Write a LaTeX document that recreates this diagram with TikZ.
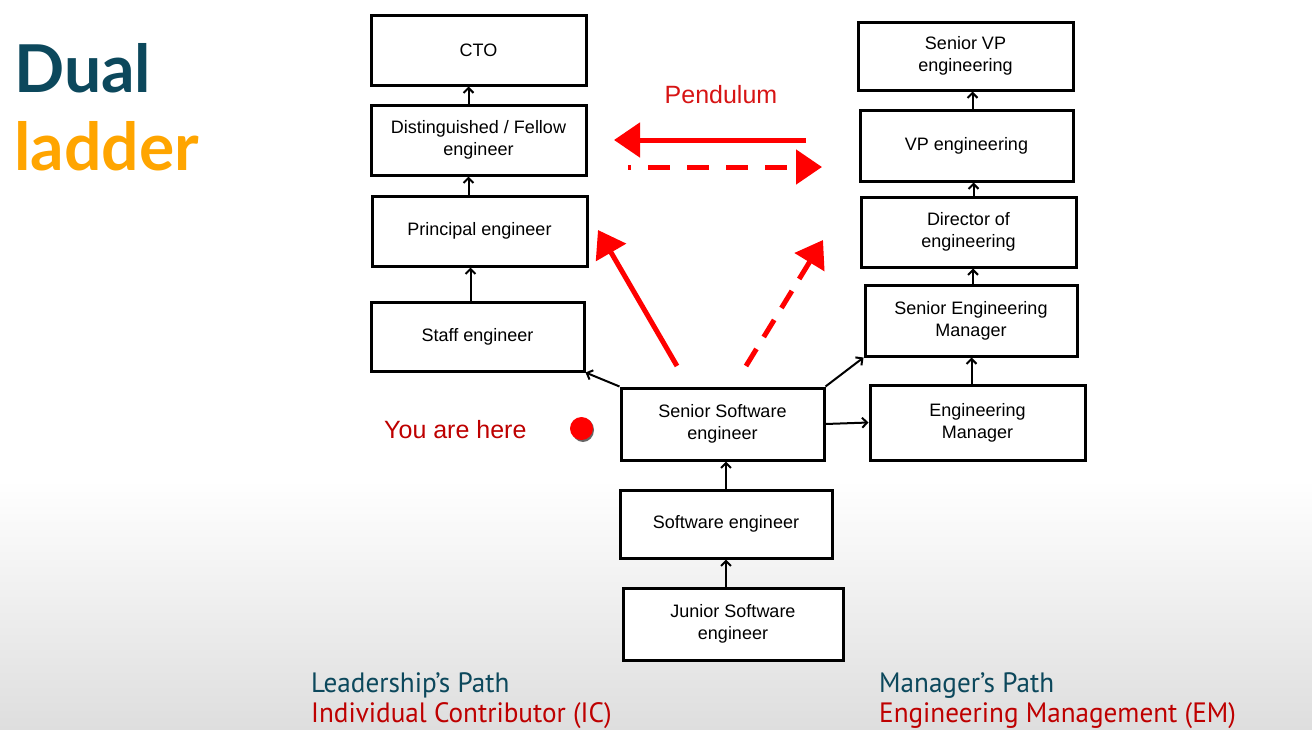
\documentclass[tikz,border=0pt]{standalone}
\usepackage{fontspec}
\setmainfont{Liberation Sans}
\newfontfamily\titlefont{Lato}
\newfontfamily\pathfont[FakeStretch=0.97]{PT Sans}
\usetikzlibrary{arrows.meta}
\definecolor{teal}{RGB}{12,72,92}
\definecolor{ladderorange}{RGB}{255,165,0}
\definecolor{darkred}{RGB}{190,0,0}
\definecolor{penred}{RGB}{215,20,20}
\definecolor{bggray}{RGB}{222,222,222}
\tikzset{
  box/.style={draw=black, line width=3pt, fill=white, inner sep=2pt,
    align=center, font=\fontsize{18}{22}\selectfont},
  uparr/.style={line width=2pt, -{Straight Barb[length=5pt,width=10pt]}},
  redarr/.style={draw=red, line width=5pt, -{Triangle[length=26pt,width=34pt]}},
  reddash/.style={redarr, dash pattern=on 22pt off 17pt},
}
\begin{document}
\begin{tikzpicture}[x=1pt,y=-1pt]
\useasboundingbox (0,0) rectangle (1312,729);
\fill[white] (0,0) rectangle (1312,481);
\shade[top color=white,bottom color=bggray] (0,480) rectangle (1312,729);

% title
\node[anchor=base west, inner sep=0pt, text=teal, font=\titlefont\bfseries\fontsize{66}{70}\selectfont] (dual) at (14,92) {Dual};
\node[anchor=base west, inner sep=0pt, text=ladderorange, font=\titlefont\bfseries\fontsize{66}{70}\selectfont] (ladder) at (14,170) {ladder};

% left column (IC)
\node[box, minimum width=215pt, minimum height=70pt] (cto) at (478.5,50) {CTO};
\node[box, minimum width=215pt, minimum height=70pt] (dist) at (478.5,140) {Distinguished / Fellow\\engineer};
\node[box, minimum width=215pt, minimum height=70pt] (prin) at (479.5,231) {Principal engineer};
\node[box, minimum width=213pt, minimum height=69pt] (staff) at (477.5,336.5) {Staff engineer};

% right column (EM)
\node[box, minimum width=215pt, minimum height=68pt] (svp) at (965.5,56) {Senior VP\\engineering};
\node[box, minimum width=213pt, minimum height=71pt] (vp) at (966.5,145.5) {VP engineering};
\node[box, minimum width=215pt, minimum height=70pt] (dir) at (968.5,232) {Director of\\engineering};
\node[box, minimum width=212pt, minimum height=71pt] (sem) at (971,320.5) {Senior Engineering\\Manager};
\node[box, minimum width=215pt, minimum height=75pt] (em) at (977.5,422.5) {Engineering\\Manager};

% centre column
\node[box, minimum width=203pt, minimum height=72pt] (sse) at (722.5,424) {Senior Software\\engineer};
\node[box, minimum width=212pt, minimum height=68pt] (swe) at (726,524) {Software engineer};
\node[box, minimum width=220pt, minimum height=72pt] (jse) at (733,624) {Junior Software\\engineer};

% black connectors
\draw[uparr] ([xshift=-10pt]dist.north) -- ([xshift=-10pt]dist.north |- cto.south);
\draw[uparr] ([xshift=-11pt]prin.north) -- ([xshift=-11pt]prin.north |- dist.south);
\draw[uparr] ([xshift=-7pt]staff.north) -- ([xshift=-7pt]staff.north |- prin.south);
\draw[uparr] ([xshift=6pt]vp.north) -- ([xshift=6pt]vp.north |- svp.south);
\draw[uparr] ([xshift=5pt]dir.north) -- ([xshift=5pt]dir.north |- vp.south);
\draw[uparr] ([xshift=2pt]sem.north) -- ([xshift=2pt]sem.north |- dir.south);
\draw[uparr] ([xshift=-6pt]em.north) -- ([xshift=-6pt]em.north |- sem.south);
\draw[uparr] (swe.north) -- (swe.north |- sse.south);
\draw[uparr] ([xshift=-7pt]jse.north) -- ([xshift=-7pt]jse.north |- swe.south);
\draw[uparr] (sse.north west) -- (staff.south east);
\draw[uparr] (sse.north east) -- (sem.south west);
\draw[uparr] (sse.east) -- (em.west);

% pendulum
\node[anchor=base, inner sep=0pt, text=penred, font=\fontsize{25}{28}\selectfont] (pend) at (721,103) {Pendulum};
\coordinate (pl1) at (806,140);
\coordinate (pl2) at (614,140);
\coordinate (pr1) at (628,167);
\coordinate (pr2) at (822,167);
\draw[redarr] (pl1) -- (pl2);
\draw[reddash, dash phase=19pt] (pr1) -- (pr2);
\coordinate (dl1) at (677,366);
\coordinate (dl2) at (598,230);
\coordinate (dr1) at (746,366);
\coordinate (dr2) at (823,240);
\draw[redarr] (dl1) -- (dl2);
\draw[reddash, dash pattern=on 20pt off 14pt] (dr1) -- (dr2);

% you are here
\node[anchor=base west, inner sep=0pt, text=darkred, font=\fontsize{25}{28}\selectfont] (here) at (384,438) {You are here};
\fill[black!60] (583,430) ellipse [x radius=11pt, y radius=12pt];
\node[circle, fill=red, inner sep=0pt, minimum width=21pt, minimum height=23pt] (dot) at (581.5,428.5) {};

% bottom labels
\node[anchor=base west, inner sep=0pt, text=teal, font=\pathfont\fontsize{28}{30}\selectfont] (lp) at (311,692) {Leadership’s Path};
\node[anchor=base west, inner sep=0pt, text=darkred, font=\pathfont\fontsize{28}{30}\selectfont] (ic) at (311,722) {Individual Contributor (IC)};
\node[anchor=base west, inner sep=0pt, text=teal, font=\pathfont\fontsize{28}{30}\selectfont] (mp) at (879,692) {Manager’s Path};
\node[anchor=base west, inner sep=0pt, text=darkred, font=\pathfont\fontsize{28}{30}\selectfont] (emp) at (879,722) {Engineering Management (EM)};
\end{tikzpicture}
\end{document}
